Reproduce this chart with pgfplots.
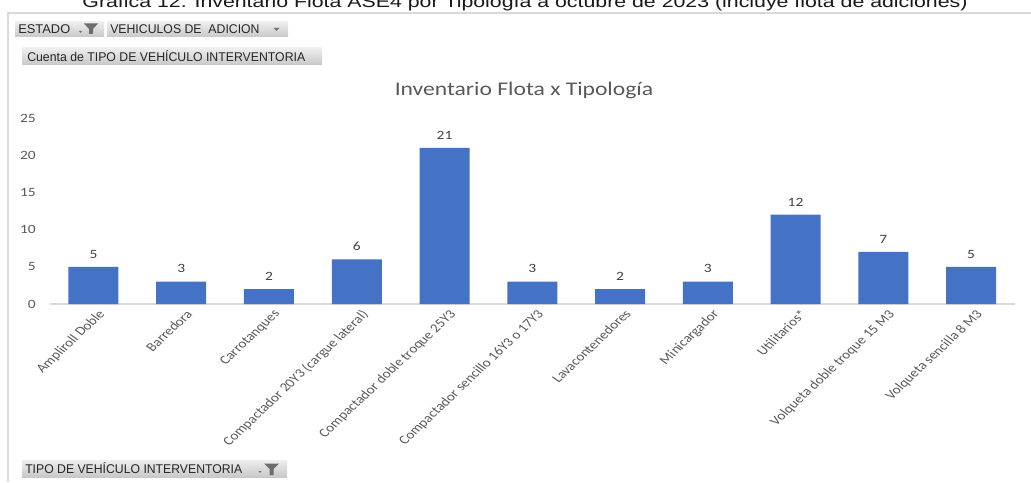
\documentclass[border=0pt]{standalone}
\usepackage{fontspec}
\setmainfont{Carlito}
\newfontfamily\arialfont{Liberation Sans}
\usepackage{pgfplots}
\pgfplotsset{compat=1.18}
\definecolor{barblue}{HTML}{4472C4}
\definecolor{txtgray}{HTML}{595959}
\definecolor{lblgray}{HTML}{404040}
\definecolor{linegray}{HTML}{D9D9D9}
\definecolor{btntop}{HTML}{EEEEEE}
\definecolor{btnbot}{HTML}{C8C8C8}
\definecolor{icongray}{HTML}{6E6E6E}
\definecolor{btntext}{HTML}{262626}

\begin{document}
\begin{tikzpicture}
\begin{axis}[
   at={(37.2pt,133.5pt)}, anchor=south west,
   scale only axis, width=724pt, height=139.5pt,
   xmin=-0.5, xmax=10.5,
   ymin=0, ymax=25,
   ybar, bar width=37.5pt,
   axis x line=bottom, axis y line=left,
   x axis line style={-, draw=linegray, line width=0.9pt},
   y axis line style={draw=none},
   major tick length=0pt,
   xtick=data,
   ytick={0,5,...,25},
   xticklabels={Ampliroll Doble, Barredora, Carrotanques,
      Compactador 20Y3 (cargue lateral), Compactador doble troque 25Y3,
      Compactador sencillo 16Y3 o 17Y3, Lavacontenedores, Minicargador,
      Utilitarios*, Volqueta doble troque 15 M3, Volqueta sencilla 8 M3},
   x tick label style={font=\fontsize{9.3}{11}\selectfont, text=txtgray,
      xscale=1.22, rotate=49, anchor=north east, inner sep=1pt, yshift=-3pt},
   y tick label style={font=\fontsize{9.5}{11}\selectfont, text=txtgray,
      xscale=1.22, xshift=-5pt},
   /pgf/number format/assume math mode=true,
   nodes near coords,
   nodes near coords style={font=\fontsize{9.5}{11}\selectfont, text=lblgray,
      xscale=1.22, yshift=3pt},
   clip=false,
]
\addplot [fill=barblue, draw=none] coordinates {
   (0, 5) (1, 3) (2, 2) (3, 6) (4, 21) (5, 3)
   (6, 2) (7, 3) (8, 12) (9, 7) (10, 5)
};
\end{axis}

% overlay in pixel coords of the reference (origin top left)
\begin{scope}[x=0.75pt, y=-0.75pt, yshift=361.5pt]
  % chart area border
  \draw [linegray, line width=0.8pt] (8,482) -- (8,13) -- (1031,13);

  % caption, cut at the top
  \node [anchor=base, inner sep=0, text=black!90] at (525,8)
     {\resizebox{663.75pt}{\height}{\arialfont\fontsize{12.5}{14}\selectfont
      Gráfica 12. Inventario Flota ASE4 por Tipología a octubre de 2023 (incluye flota de adiciones)}};

  % pivot field buttons
  \shade [top color=btntop, bottom color=btnbot] (15,22) rectangle (104,37);
  \shade [top color=btntop, bottom color=btnbot] (107,22) rectangle (288,37);
  \shade [top color=btntop, bottom color=btnbot] (22,48) rectangle (322,65);
  \shade [top color=btntop, bottom color=btnbot] (22,460) rectangle (287,477);

  \node [anchor=west, inner sep=0, text=btntext] at (18,29.5)
     {\resizebox{39pt}{\height}{\arialfont\fontsize{9.5}{11}\selectfont ESTADO}};
  \node [anchor=west, inner sep=0, text=btntext] at (110,29.5)
     {\resizebox{112pt}{\height}{\arialfont\fontsize{9.5}{11}\selectfont VEHICULOS DE\ \ ADICION}};
  \node [anchor=west, inner sep=0, text=btntext] at (27,56.5)
     {\resizebox{208.5pt}{\height}{\arialfont\fontsize{9.5}{11}\selectfont Cuenta de TIPO DE VEHÍCULO INTERVENTORIA}};
  \node [anchor=west, inner sep=0, text=btntext] at (25,468.5)
     {\resizebox{162.75pt}{\height}{\arialfont\fontsize{9.5}{11}\selectfont TIPO DE VEHÍCULO INTERVENTORIA}};

  % filter and drop-down icons
  \fill [icongray] (84,23.5) -- (98,23.5) -- (93,29) -- (93,34) -- (89,34) -- (89,29) -- cycle;
  \fill [icongray] (79,31) -- (82,31) -- (80.5,33) -- cycle;
  \fill [icongray] (273.5,28) -- (279.5,28) -- (276.5,31) -- cycle;
  \fill [icongray] (264,463.5) -- (279,463.5) -- (273.5,469) -- (273.5,475) -- (269.5,475) -- (269.5,469) -- cycle;
  \fill [icongray] (258.5,471) -- (261.5,471) -- (260,473) -- cycle;

  % chart title
  \node [text=txtgray, font=\fontsize{14.5}{17}\selectfont, xscale=1.22] at (524,90)
     {Inventario Flota x Tipología};
\end{scope}

\pgfresetboundingbox
\path [use as bounding box] (0,0) rectangle (773.25pt,361.5pt);
\end{tikzpicture}
\end{document}
